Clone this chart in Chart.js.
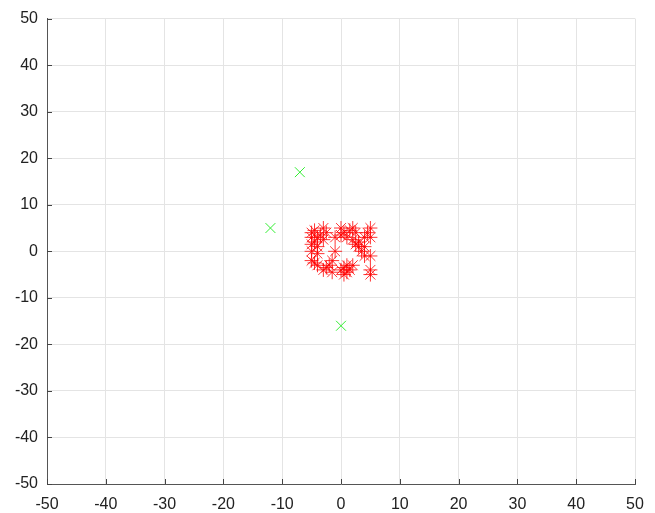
<!DOCTYPE html>
<html>
<head>
<meta charset="utf-8">
<script src="https://cdn.jsdelivr.net/npm/chart.js@4"></script>
<style>
html,body{margin:0;padding:0;background:#fff;}
#wrap{width:655px;height:513px;}
</style>
</head>
<body>
<div id="wrap"><canvas id="c" width="655" height="513"></canvas></div>
<script>
const clusterX = [-5,-4.5,-3,-2.5,0,0.5,2,2.5,5,4.5,-3.5,1.5,
                  -5,-4,-1,1,2,3,4,5,-3,0,
                  -4,-5,3,4,-4.5,2.5,
                  -5,-1,3.5,4,5,-4,
                  -5,-4,-1.5,-2,1,2,-4.5,0.5,
                  -3,-1.5,0,0.5,1,5,5,-2.5,1.5];
const clusterY = [4,4.5,5,4,5,4,5,4,5,4,3.5,4.5,
                  3,3,3,3,2.5,2,3,3,2.5,3.5,
                  1,1.5,1,1,2,1.5,
                  0,0,0,-1,-1,-0.5,
                  -2,-3,-2,-3,-3,-3,-2.5,-3.5,
                  -4,-4.5,-4,-5,-4.5,-4,-5,-3.5,-4];
const outlierX = [-7,-12,0];
const outlierY = [17,5,-16];
const tickValues = [-50,-40,-30,-20,-10,0,10,20,30,40,50];

const pts = (xs, ys) => xs.map((x,i)=>({x:x, y:ys[i]}));

const innerTicks = {
  id:'innerTicks',
  afterDraw(chart){
    const ctx = chart.ctx, a = chart.chartArea;
    const xs = chart.scales.x, ys = chart.scales.y;
    ctx.save();
    ctx.strokeStyle = '#444';
    ctx.lineWidth = 1;
    ctx.beginPath();
    tickValues.forEach(v=>{
      const px = Math.round(xs.getPixelForValue(v))+0.5;
      ctx.moveTo(px, a.bottom); ctx.lineTo(px, a.bottom-5);
      const py = Math.round(ys.getPixelForValue(v))+0.5;
      ctx.moveTo(a.left, py); ctx.lineTo(a.left+5, py);
    });
    ctx.stroke();
    ctx.restore();
  }
};

new Chart(document.getElementById('c'), {
  type:'scatter',
  data:{
    datasets:[
      {data: pts(clusterX, clusterY), pointStyle:'star', radius:7, borderColor:'rgba(255,0,0,0.8)', backgroundColor:'rgba(255,0,0,0.8)', borderWidth:1},
      {data: pts(outlierX, outlierY), pointStyle:'crossRot', radius:7, borderColor:'#33ee33', backgroundColor:'#33ee33', borderWidth:1}
    ]
  },
  options:{
    responsive:false,
    animation:false,
    events:[],
    plugins:{legend:{display:false}, tooltip:{enabled:false}},
    layout:{padding:{top:18, right:20, left:0, bottom:0}},
    scales:{
      x:{
        type:'linear', min:-50, max:50,
        afterBuildTicks(s){ s.ticks = tickValues.map(v=>({value:v})); },
        afterFit(s){ s.height = 29; },
        grid:{color:'#e4e4e4', drawTicks:false, lineWidth:1},
        border:{display:true, color:'#555', width:1},
        ticks:{padding:11, color:'#222', font:{family:'Liberation Sans, Arial', size:16}, maxRotation:0, autoSkip:false}
      },
      y:{
        type:'linear', min:-50, max:50,
        afterBuildTicks(s){ s.ticks = tickValues.map(v=>({value:v})); },
        afterFit(s){ s.width = 47; },
        grid:{color:'#e4e4e4', drawTicks:false, lineWidth:1},
        border:{display:true, color:'#555', width:1},
        ticks:{padding:9, color:'#222', font:{family:'Liberation Sans, Arial', size:16}, autoSkip:false}
      }
    }
  },
  plugins:[innerTicks]
});
</script>
</body>
</html>
